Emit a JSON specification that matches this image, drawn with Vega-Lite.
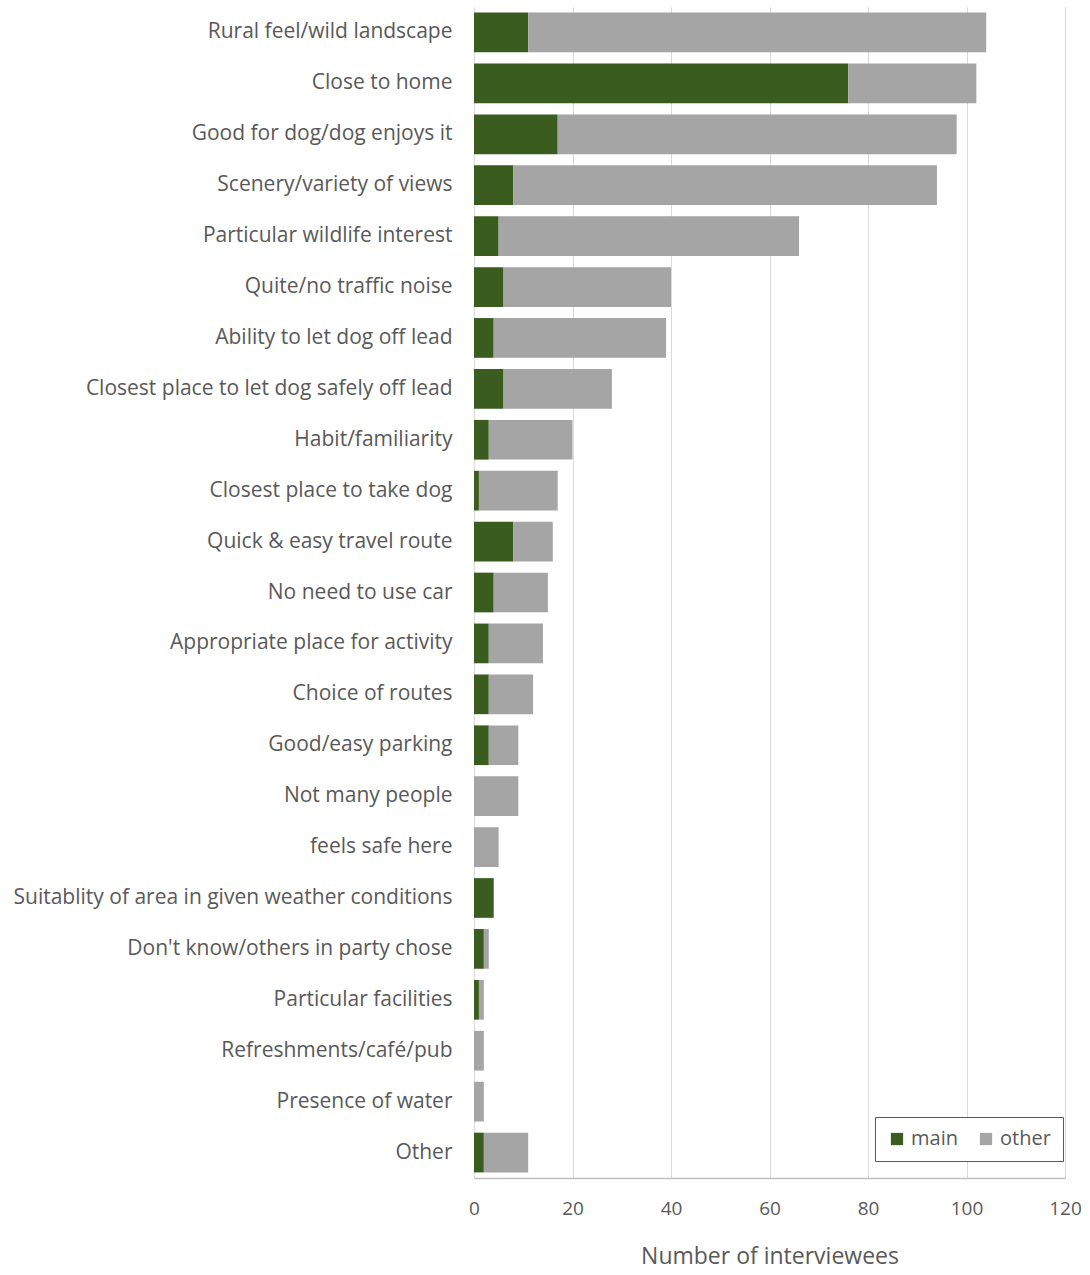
{
  "$schema": "https://vega.github.io/schema/vega-lite/v6.json",
  "width": 591,
  "height": 1171,
  "autosize": "none",
  "padding": {"left": 474, "top": 7, "right": 25, "bottom": 97},
  "background": "white",
  "config": {
    "view": {"stroke": null},
    "font": "Open Sans"
  },
  "data": {
    "values": [
      {"reason": "Rural feel/wild landscape", "type": "main", "n": 11},
      {"reason": "Rural feel/wild landscape", "type": "other", "n": 93},
      {"reason": "Close to home", "type": "main", "n": 76},
      {"reason": "Close to home", "type": "other", "n": 26},
      {"reason": "Good for dog/dog enjoys it", "type": "main", "n": 17},
      {"reason": "Good for dog/dog enjoys it", "type": "other", "n": 81},
      {"reason": "Scenery/variety of views", "type": "main", "n": 8},
      {"reason": "Scenery/variety of views", "type": "other", "n": 86},
      {"reason": "Particular wildlife interest", "type": "main", "n": 5},
      {"reason": "Particular wildlife interest", "type": "other", "n": 61},
      {"reason": "Quite/no traffic noise", "type": "main", "n": 6},
      {"reason": "Quite/no traffic noise", "type": "other", "n": 34},
      {"reason": "Ability to let dog off lead", "type": "main", "n": 4},
      {"reason": "Ability to let dog off lead", "type": "other", "n": 35},
      {"reason": "Closest place to let dog safely off lead", "type": "main", "n": 6},
      {"reason": "Closest place to let dog safely off lead", "type": "other", "n": 22},
      {"reason": "Habit/familiarity", "type": "main", "n": 3},
      {"reason": "Habit/familiarity", "type": "other", "n": 17},
      {"reason": "Closest place to take dog", "type": "main", "n": 1},
      {"reason": "Closest place to take dog", "type": "other", "n": 16},
      {"reason": "Quick & easy travel route", "type": "main", "n": 8},
      {"reason": "Quick & easy travel route", "type": "other", "n": 8},
      {"reason": "No need to use car", "type": "main", "n": 4},
      {"reason": "No need to use car", "type": "other", "n": 11},
      {"reason": "Appropriate place for activity", "type": "main", "n": 3},
      {"reason": "Appropriate place for activity", "type": "other", "n": 11},
      {"reason": "Choice of routes", "type": "main", "n": 3},
      {"reason": "Choice of routes", "type": "other", "n": 9},
      {"reason": "Good/easy parking", "type": "main", "n": 3},
      {"reason": "Good/easy parking", "type": "other", "n": 6},
      {"reason": "Not many people", "type": "main", "n": 0},
      {"reason": "Not many people", "type": "other", "n": 9},
      {"reason": "feels safe here", "type": "main", "n": 0},
      {"reason": "feels safe here", "type": "other", "n": 5},
      {"reason": "Suitablity of area in given weather conditions", "type": "main", "n": 4},
      {"reason": "Suitablity of area in given weather conditions", "type": "other", "n": 0},
      {"reason": "Don't know/others in party chose", "type": "main", "n": 2},
      {"reason": "Don't know/others in party chose", "type": "other", "n": 1},
      {"reason": "Particular facilities", "type": "main", "n": 1},
      {"reason": "Particular facilities", "type": "other", "n": 1},
      {"reason": "Refreshments/café/pub", "type": "main", "n": 0},
      {"reason": "Refreshments/café/pub", "type": "other", "n": 2},
      {"reason": "Presence of water", "type": "main", "n": 0},
      {"reason": "Presence of water", "type": "other", "n": 2},
      {"reason": "Other", "type": "main", "n": 2},
      {"reason": "Other", "type": "other", "n": 9}
    ]
  },
  "mark": {"type": "bar", "stroke": null},
  "encoding": {
    "y": {
      "field": "reason",
      "type": "nominal",
      "sort": null,
      "scale": {"paddingInner": 0.22, "paddingOuter": 0.11},
      "axis": {
        "title": null,
        "labelFontSize": 21,
        "labelColor": "#595959",
        "labelPadding": 22,
        "labelLimit": 470,
        "ticks": false,
        "domain": true,
        "domainColor": "#d9d9d9",
        "grid": false
      }
    },
    "x": {
      "field": "n",
      "type": "quantitative",
      "stack": "zero",
      "scale": {"domain": [0, 120], "nice": false},
      "axis": {
        "values": [0, 20, 40, 60, 80, 100, 120],
        "title": "Number of interviewees",
        "titleFontSize": 23,
        "titleFontWeight": "normal",
        "titleColor": "#595959",
        "titlePadding": 27,
        "labelFontSize": 19,
        "labelColor": "#595959",
        "labelPadding": 21,
        "labelFlush": false,
        "ticks": false,
        "domainColor": "#bfbfbf",
        "domainWidth": 1.5,
        "gridColor": "#d9d9d9",
        "grid": true
      }
    },
    "color": {
      "field": "type",
      "type": "nominal",
      "scale": {"domain": ["main", "other"], "range": ["#3a5c1f", "#a5a5a5"]},
      "legend": {
        "title": null,
        "orient": "none",
        "legendX": 401,
        "legendY": 1110,
        "direction": "horizontal",
        "padding": 12,
        "strokeColor": "#595959",
        "fillColor": "white",
        "labelFontSize": 20,
        "labelColor": "#595959",
        "symbolType": "square",
        "symbolSize": 150,
        "symbolStrokeWidth": 0,
        "columnPadding": 18,
        "labelOffset": 4,
        "encode": {
          "symbols": {
            "enter": {
              "fill": {"signal": "datum.value === 'main' ? '#333333' : '#a5a5a5'"}
            },
            "update": {
              "fill": {"signal": "datum.value === 'main' ? '#333333' : '#a5a5a5'"}
            }
          }
        }
      }
    },
    "order": {"field": "type", "sort": "ascending"}
  }
}
